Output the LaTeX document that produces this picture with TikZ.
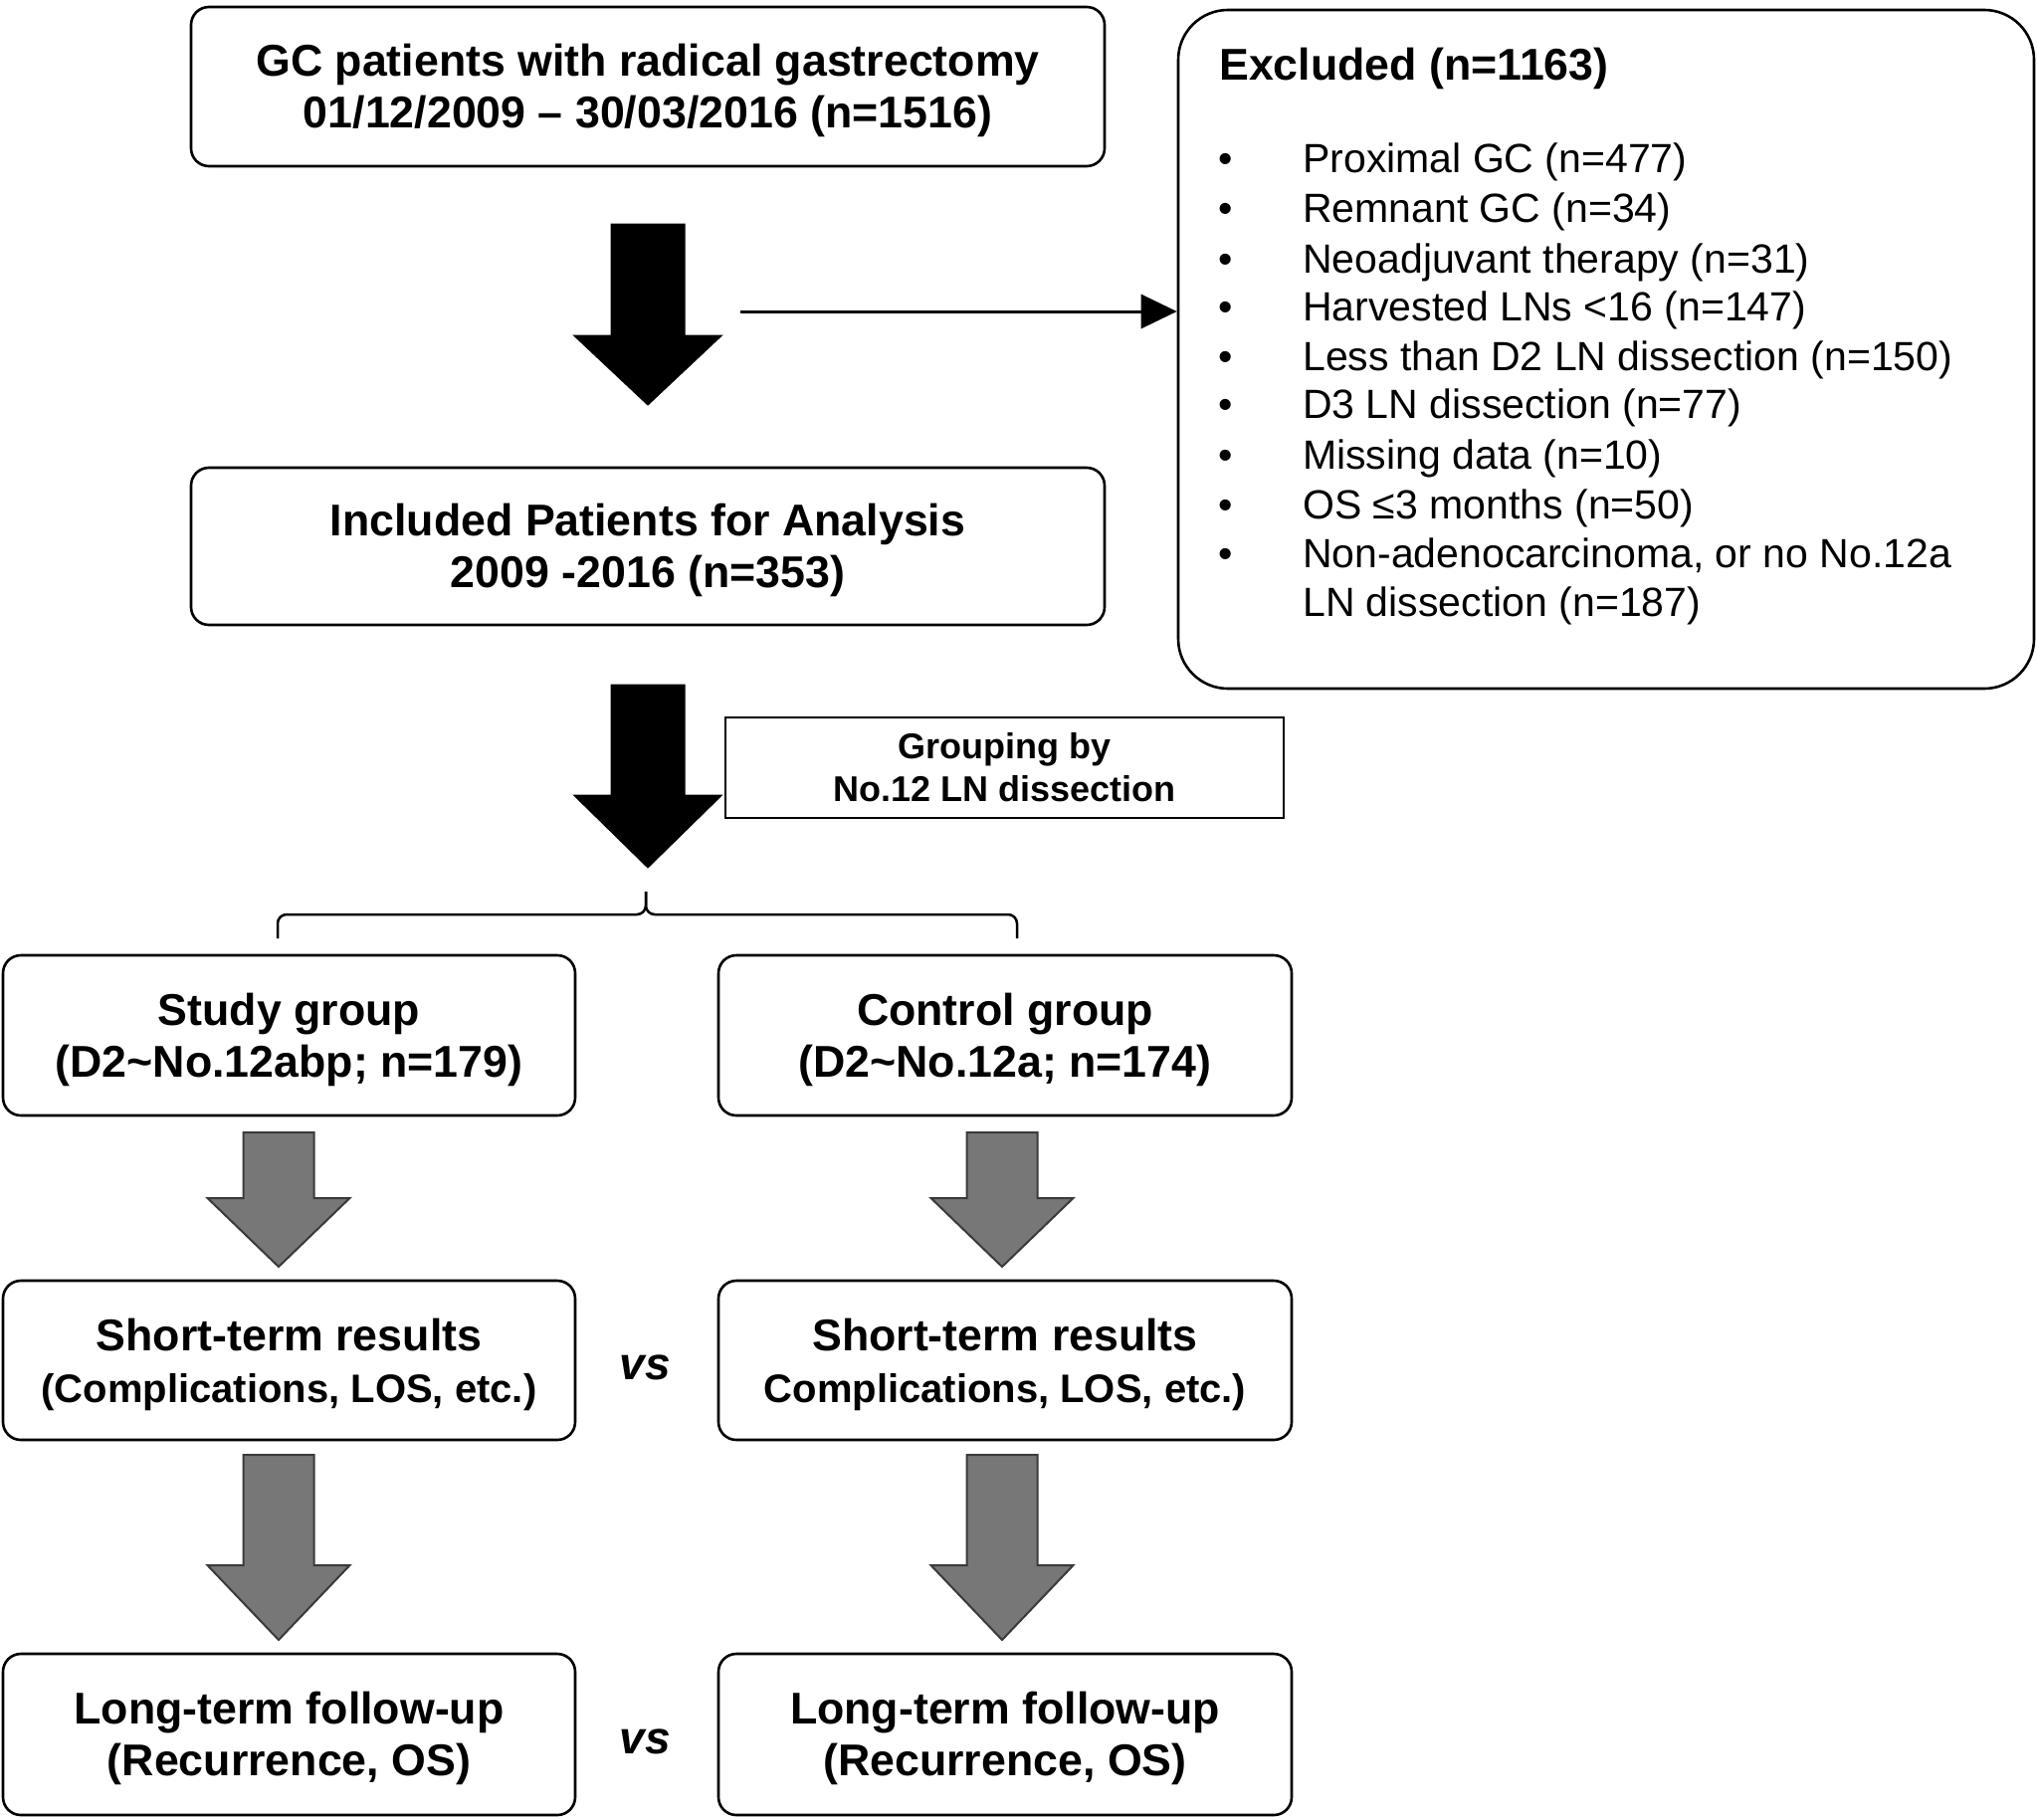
\documentclass[tikz,border=0pt]{standalone}
\usepackage{fontspec}
\setmainfont{Liberation Sans}
\usetikzlibrary{arrows.meta,calc}
\definecolor{arrgrey}{HTML}{777777}
\definecolor{arredge}{HTML}{3A3A3A}
\newcommand\blockarr[7]{%
  \draw[#7] (#1-#5,#2) -- (#1+#5,#2) -- (#1+#5,#3) -- (#1+#6,#3) -- (#1,#4) -- (#1-#6,#3) -- (#1-#5,#3) -- cycle;}
\newcommand\topstrut{\rule{0pt}{41pt}}
\begin{document}
\begin{tikzpicture}[x=1pt,y=-1pt,
  mainbox/.style={draw, line width=2.6pt, rounded corners=18pt, align=center,
    font=\bfseries\fontsize{44.7}{52}\selectfont, inner sep=0pt},
  blackarr/.style={fill=black, draw=black, line width=1pt},
  greyarr/.style={fill=arrgrey, draw=arredge, line width=2pt},
  listtext/.style={anchor=west, inner sep=0pt, font=\fontsize{41}{49.5}\selectfont,
    text height=30pt, text depth=8.6pt},
  vstext/.style={inner sep=0pt, font=\bfseries\itshape\fontsize{46}{50}\selectfont}]
\useasboundingbox (0,0) rectangle (2047,1828);
\fill[white] (0,0) rectangle (2047,1828);

% main boxes
\node[mainbox, minimum width=918pt, minimum height=160pt] (top) at (651,87)
  {\topstrut GC patients with radical gastrectomy\\01/12/2009 – 30/03/2016 (n=1516)};
\node[mainbox, minimum width=918pt, minimum height=158pt] (incl) at (651,549)
  {\topstrut Included Patients for Analysis\\2009 -2016 (n=353)};

% excluded box
\node[draw, line width=2.6pt, rounded corners=50pt, minimum width=860pt,
  minimum height=682pt, inner sep=0pt] (excl) at (1614,351) {};
\node[anchor=west, inner sep=0pt, font=\bfseries\fontsize{44.7}{52}\selectfont,
  text height=32.6pt, text depth=9.4pt] (exttl) at (1225,69) {Excluded (n=1163)};
\node[listtext] (d1) at (1224,163) {•};
\node[listtext] (d2) at (1224,213) {•};
\node[listtext] (d3) at (1224,264) {•};
\node[listtext] (d4) at (1224,312) {•};
\node[listtext] (d5) at (1224,362) {•};
\node[listtext] (d6) at (1224,410) {•};
\node[listtext] (d7) at (1224,461) {•};
\node[listtext] (d8) at (1224,511) {•};
\node[listtext] (d9) at (1224,560) {•};
\node[listtext] (t1) at (1309,163) {Proximal GC (n=477)};
\node[listtext] (t2) at (1309,213) {Remnant GC (n=34)};
\node[listtext] (t3) at (1309,264) {Neoadjuvant therapy (n=31)};
\node[listtext] (t4) at (1309,312) {Harvested LNs <16 (n=147)};
\node[listtext] (t5) at (1309,362) {Less than D2 LN dissection (n=150)};
\node[listtext] (t6) at (1309,410) {D3 LN dissection (n=77)};
\node[listtext] (t7) at (1309,461) {Missing data (n=10)};
\node[listtext] (t8) at (1309,511) {OS ≤3 months (n=50)};
\node[listtext] (t9) at (1309,560) {Non-adenocarcinoma, or no No.12a};
\node[listtext] (t10) at (1309,609) {LN dissection (n=187)};

% thin arrow to excluded
\coordinate (tstart) at (744,313);
\draw[line width=3pt, -{Triangle[length=36pt,width=34pt]}] (tstart) -- (tstart -| excl.west);

% grouping box
\node[draw, line width=2.4pt, minimum width=561pt, minimum height=101pt, inner sep=0pt,
  align=center, font=\bfseries\fontsize{36}{43}\selectfont] (grp) at (1009.5,771.5)
  {Grouping by\\No.12 LN dissection};

% black block arrows
\blockarr{651}{225}{337}{407}{37}{74.5}{blackarr}
\blockarr{651}{688}{799}{872}{37}{74.5}{blackarr}

% brace
\coordinate (bc) at (649,896);
\coordinate (bl) at (279,943);
\coordinate (br) at (1022,943);
\draw[line width=2.5pt, rounded corners=9pt] (bl) -- (279,919) -- (649,919) -- (bc);
\draw[line width=2.5pt, rounded corners=9pt] (br) -- (1022,919) -- (649,919) -- (bc);

% group boxes
\node[mainbox, minimum width=575pt, minimum height=161pt] (study) at (290.5,1040.5)
  {\topstrut Study group\\(D2\textasciitilde No.12abp; n=179)};
\node[mainbox, minimum width=576pt, minimum height=161pt] (ctrl) at (1010,1040.5)
  {\topstrut Control group\\(D2\textasciitilde No.12a; n=174)};

\node[mainbox, minimum width=575pt, minimum height=160pt] (sl) at (290.5,1367)
  {\topstrut Short-term results\\{\fontsize{40}{52}\selectfont (Complications, LOS, etc.)}};
\node[mainbox, minimum width=576pt, minimum height=160pt] (sr) at (1010,1367)
  {\topstrut Short-term results\\{\fontsize{40}{52}\selectfont Complications, LOS, etc.)}};

\node[mainbox, minimum width=575pt, minimum height=162pt] (ll) at (290.5,1743)
  {\topstrut Long-term follow-up\\(Recurrence, OS)};
\node[mainbox, minimum width=576pt, minimum height=162pt] (lr) at (1010,1743)
  {\topstrut Long-term follow-up\\(Recurrence, OS)};

\node[vstext] (vs1) at (648,1374) {vs};
\node[vstext] (vs2) at (648,1750) {vs};

% grey block arrows
\blockarr{280}{1138}{1204}{1273}{35.5}{71.5}{greyarr}
\blockarr{1007}{1138}{1204}{1273}{35.5}{71.5}{greyarr}
\blockarr{280}{1462}{1573}{1648}{35.5}{71.5}{greyarr}
\blockarr{1007}{1462}{1573}{1648}{35.5}{71.5}{greyarr}
\end{tikzpicture}
\end{document}
